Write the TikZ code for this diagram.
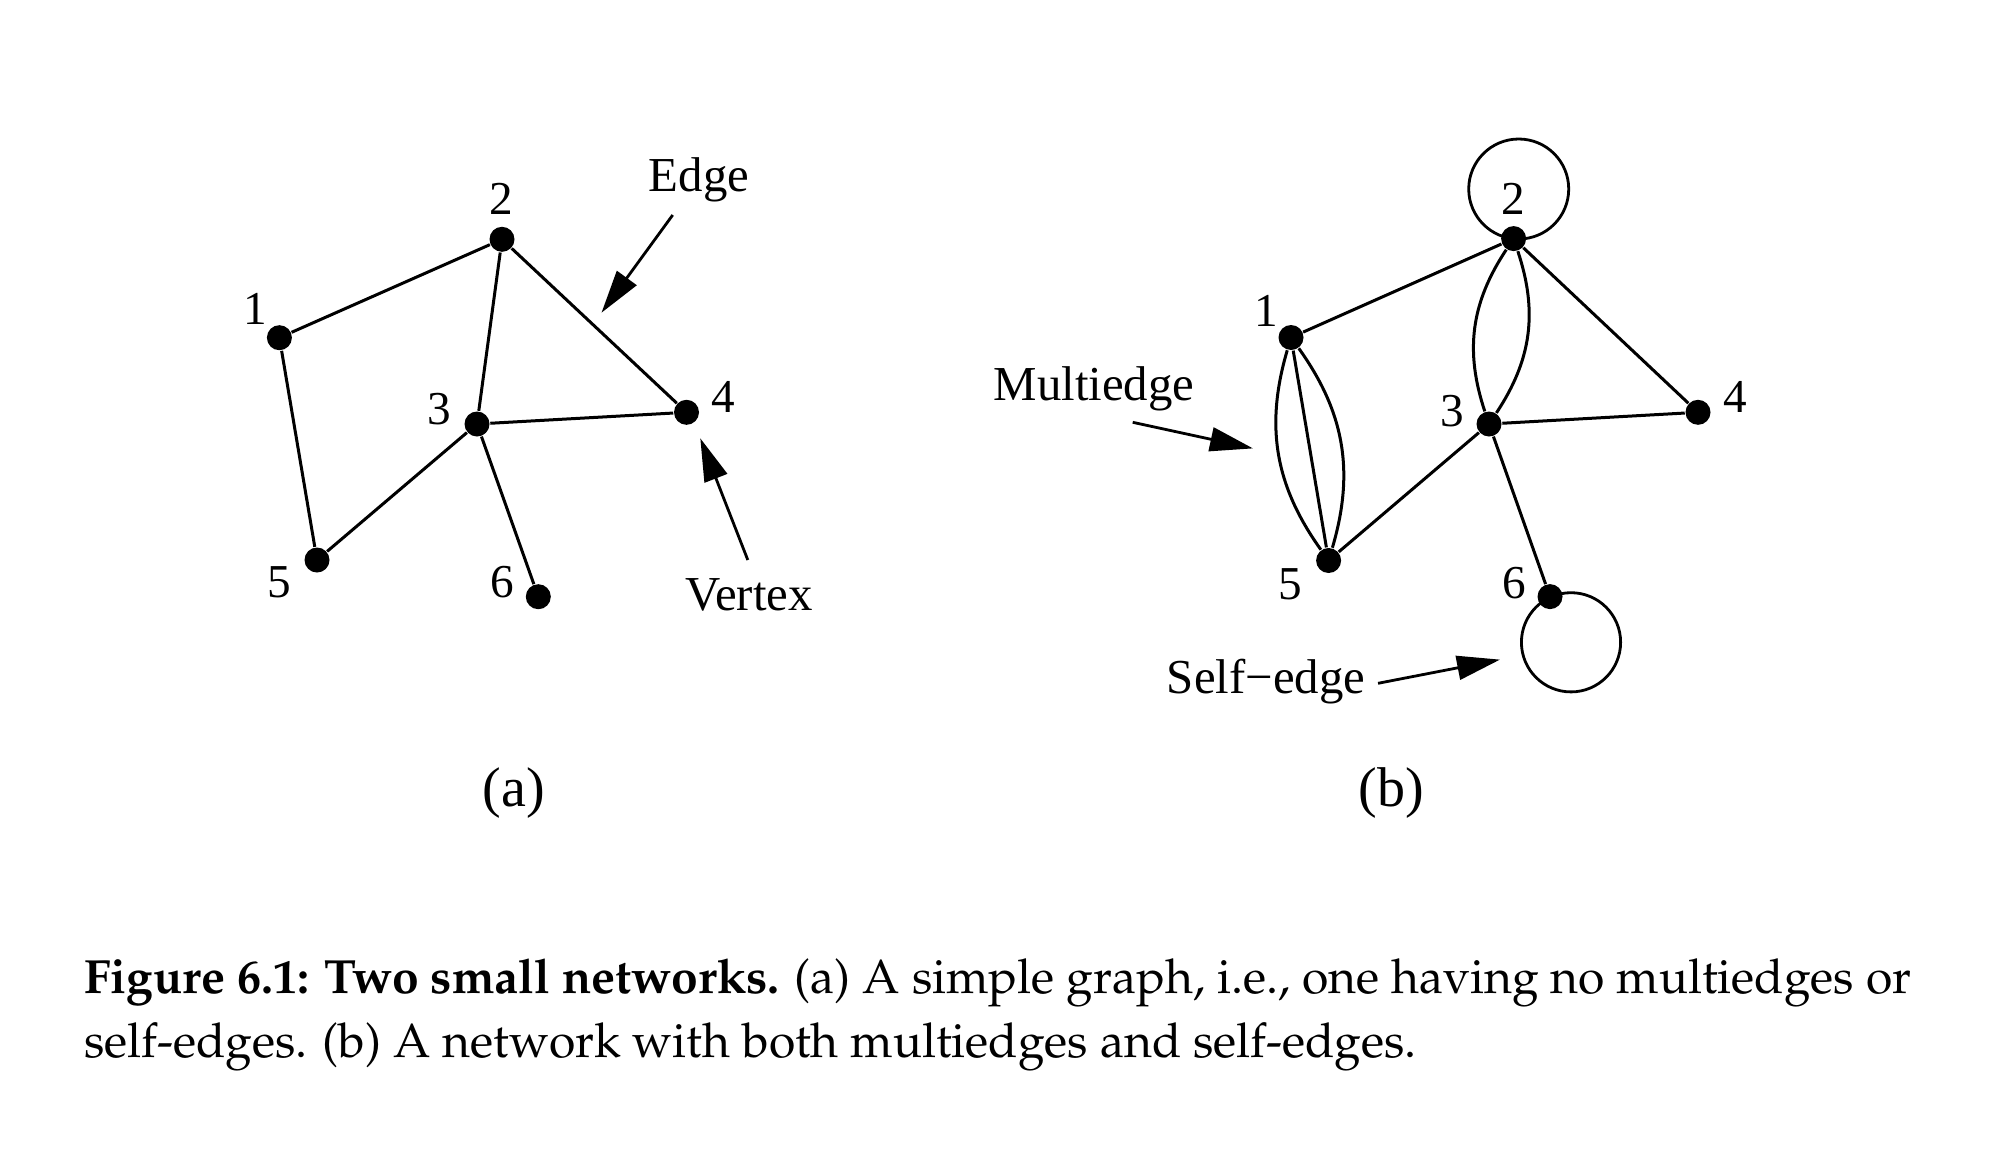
\documentclass[tikz,border=0pt]{standalone}
\usepackage[T1]{fontenc}
\usepackage{fontspec}
\usepackage{graphicx}
\setmainfont{Liberation Serif}
\usetikzlibrary{arrows.meta,calc}
\newcommand\capfont{\fontencoding{T1}\fontfamily{ppl}\selectfont}
\begin{document}
\begin{tikzpicture}[x=0.25pt,y=-0.25pt,
  dot/.style={circle,fill=black,inner sep=0pt,minimum size=6.25pt},
  lab/.style={inner sep=0pt,font=\fontsize{11.8pt}{14pt}\selectfont},
  word/.style={inner sep=0pt,anchor=base,font=\fontsize{12.2pt}{14pt}\selectfont},
  sub/.style={inner sep=0pt,font=\fontsize{14pt}{17pt}\selectfont},
  edge/.style={line width=0.75pt},
  loopline/.style={line width=0.7pt},
  pointer/.style={line width=0.7pt,-{Triangle[length=10.75pt,width=6pt]}},
  captext/.style={inner sep=0pt,anchor=base west,font=\capfont\fontsize{12pt}{15.75pt}\selectfont}]
\useasboundingbox (0,0) rectangle (2010,1156);
% ---------- (a) ----------
\node[dot] (a1) at (279.4,337.7) {};
\node[dot] (a2) at (502,239.3) {};
\node[dot] (a3) at (477,424) {};
\node[dot] (a4) at (686.5,412.3) {};
\node[dot] (a5) at (317,560) {};
\node[dot] (a6) at (538.3,596.7) {};
\draw[edge] (a1) -- (a2);
\draw[edge] (a1) -- (a5);
\draw[edge] (a2) -- (a3);
\draw[edge] (a2) -- (a4);
\draw[edge] (a3) -- (a4);
\draw[edge] (a3) -- (a5);
\draw[edge] (a3) -- (a6);
\node[lab] (la1) at (255,309) {1};
\node[lab] (la2) at (501.7,199) {2};
\node[lab] (la3) at (439,409) {3};
\node[lab] (la4) at (723,397) {4};
\node[lab] (la5) at (279.4,582) {5};
\node[lab] (la6) at (502.7,582) {6};
\node[word] (edgelab) at (699,191) {Edge};
\coordinate (edgefrom) at (672.7,215);
\coordinate (edgeto) at (601.5,312.7);
\draw[pointer] (edgefrom) -- (edgeto);
\node[word] (vertexlab) at (749,610) {Vertex};
\coordinate (vertexfrom) at (747.8,560);
\coordinate (vertexto) at (700.3,438.3);
\draw[pointer] (vertexfrom) -- (vertexto);
\node[sub] (suba) at (514,793.5) {(a)};
% ---------- (b) ----------
\node[dot] (b1) at (1291,337.5) {};
\node[dot] (b2) at (1513.6,238.6) {};
\node[dot] (b3) at (1489,424) {};
\node[dot] (b4) at (1698,412.3) {};
\node[dot] (b5) at (1328.6,560.5) {};
\node[dot] (b6) at (1550,596.6) {};
\draw[edge] (b1) -- (b2);
\draw[edge] (b1) -- (b5);
\draw[edge] (b1) to[bend right=26] (b5);
\draw[edge] (b1) to[bend left=26] (b5);
\draw[edge] (b2) to[bend right=26] (b3);
\draw[edge] (b2) to[bend left=26] (b3);
\draw[edge] (b2) -- (b4);
\draw[edge] (b3) -- (b4);
\draw[edge] (b3) -- (b5);
\draw[edge] (b3) -- (b6);
\draw[loopline] ($(b2.center)+(5.1,-49.6)$) circle[radius=12.5pt];
\draw[loopline] ($(b6.center)+(21,45.7)$) circle[radius=12.4pt];
\node[lab] (lb1) at (1266.7,311) {1};
\node[lab] (lb2) at (1513.5,199) {2};
\node[lab] (lb3) at (1452,411) {3};
\node[lab] (lb4) at (1735,397) {4};
\node[lab] (lb5) at (1290.7,584) {5};
\node[lab] (lb6) at (1513.8,583) {6};
\node[word] (multilab) at (1094,400) {Multiedge};
\coordinate (multifrom) at (1132.7,422.3);
\coordinate (multito) at (1253,448.4);
\draw[pointer] (multifrom) -- (multito);
\node[word] (selflab) at (1266,693.5) {Self−edge};
\coordinate (selffrom) at (1378,683.3);
\coordinate (selfto) at (1500,659.6);
\draw[pointer] (selffrom) -- (selfto);
\node[sub] (subb) at (1391,793.5) {(b)};
% ---------- caption ----------
\node[captext] (cap1) at (83.3,993) {\textbf{Figure 6.1: Two small networks.} (a) A simple graph, i.e., one having no multiedges or};
\node[captext] (cap2) at (83.3,1057) {self-edges. (b) A network with both multiedges and self-edges.};
\end{tikzpicture}
\end{document}
